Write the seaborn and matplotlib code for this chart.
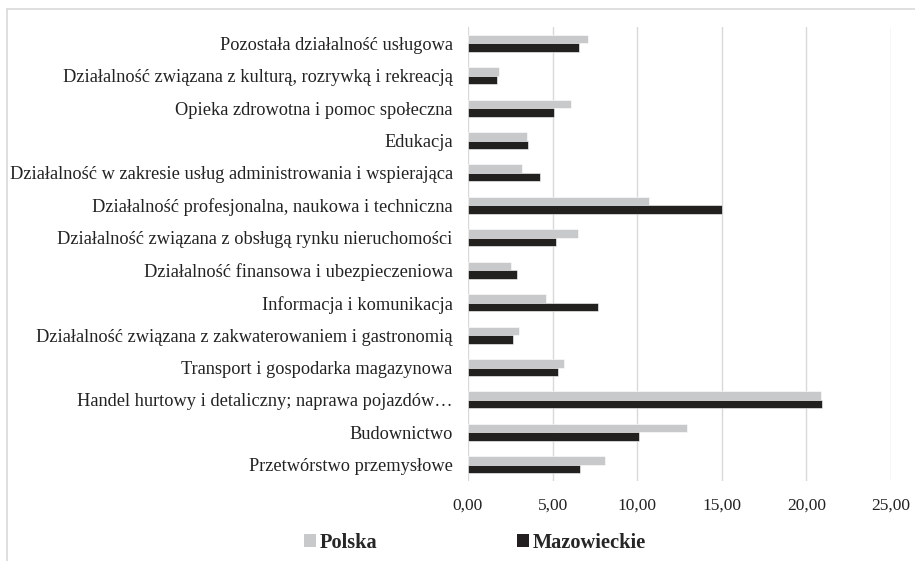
import matplotlib
matplotlib.use("Agg")
import matplotlib.pyplot as plt
from matplotlib.ticker import FuncFormatter
from matplotlib.lines import Line2D
from matplotlib.patches import Patch
import seaborn as sns
import pandas as pd

categories = [
    "Pozostała działalność usługowa",
    "Działalność związana z kulturą, rozrywką i rekreacją",
    "Opieka zdrowotna i pomoc społeczna",
    "Edukacja",
    "Działalność w zakresie usług administrowania i wspierająca",
    "Działalność profesjonalna, naukowa i techniczna",
    "Działalność związana z obsługą rynku nieruchomości",
    "Działalność finansowa i ubezpieczeniowa",
    "Informacja i komunikacja",
    "Działalność związana z zakwaterowaniem i gastronomią",
    "Transport i gospodarka magazynowa",
    "Handel hurtowy i detaliczny; naprawa pojazdów…",
    "Budownictwo",
    "Przetwórstwo przemysłowe",
]
polska = [7.11, 1.81, 6.08, 3.47, 3.21, 10.67, 6.52, 2.54, 4.63, 2.99, 5.69, 20.85, 12.95, 8.11]
mazowieckie = [6.58, 1.69, 5.10, 3.56, 4.25, 15.00, 5.22, 2.87, 7.70, 2.68, 5.32, 20.91, 10.12, 6.62]
series_names = ["Polska", "Mazowieckie"]
x_ticks = [0, 5, 10, 15, 20, 25]

df = pd.DataFrame({
    "kategoria": categories * 2,
    "seria": [series_names[0]] * len(categories) + [series_names[1]] * len(categories),
    "wartosc": polska + mazowieckie,
})

sns.set_theme(style="white")
plt.rcParams["font.family"] = ["Liberation Serif", "DejaVu Serif"]

colors = {"Polska": "#c8c9ca", "Mazowieckie": "#231f20"}

fig = plt.figure(figsize=(9.15, 5.61), dpi=100)
ax = fig.add_axes([468 / 915, 1 - 481 / 561, (891 - 468) / 915, (481 - 27) / 561])

sns.barplot(data=df, y="kategoria", x="wartosc", hue="seria", order=categories,
            hue_order=series_names, palette=colors, orient="h", width=0.52,
            ax=ax, legend=False, edgecolor="white", linewidth=0.4)

ax.set_xlim(0, 25)
ax.set_xticks(x_ticks)
ax.xaxis.set_major_formatter(FuncFormatter(lambda v, p: f"{v:.2f}".replace(".", ",")))
ax.grid(axis="x", color="#d9d9d9", linewidth=1.0)
ax.set_axisbelow(True)
for s in ax.spines.values():
    s.set_visible(False)
ax.set_xlabel("")
ax.set_ylabel("")
ax.tick_params(axis="y", length=0, pad=11, labelsize=13.2, labelcolor="#222222")
ax.tick_params(axis="x", length=0, pad=12, labelsize=12.5, labelcolor="#222222")

# frame border
fig.add_artist(Line2D([7 / 915, 7 / 915], [0, 1 - 9 / 561], color="#d9d9d9", lw=1.2, transform=fig.transFigure))
fig.add_artist(Line2D([7 / 915, 1], [1 - 9 / 561, 1 - 9 / 561], color="#d9d9d9", lw=1.2, transform=fig.transFigure))

handles = [Patch(facecolor=colors[n], edgecolor="none") for n in series_names]
fig.legend(handles, series_names, loc="center", bbox_to_anchor=(475 / 915, 1 - 543 / 561), ncol=2,
           frameon=False, prop={"weight": "bold", "size": 14.7}, handlelength=0.6, handleheight=0.6,
           handletextpad=0.2, columnspacing=6.8)

fig.savefig("out.png", dpi=100)
